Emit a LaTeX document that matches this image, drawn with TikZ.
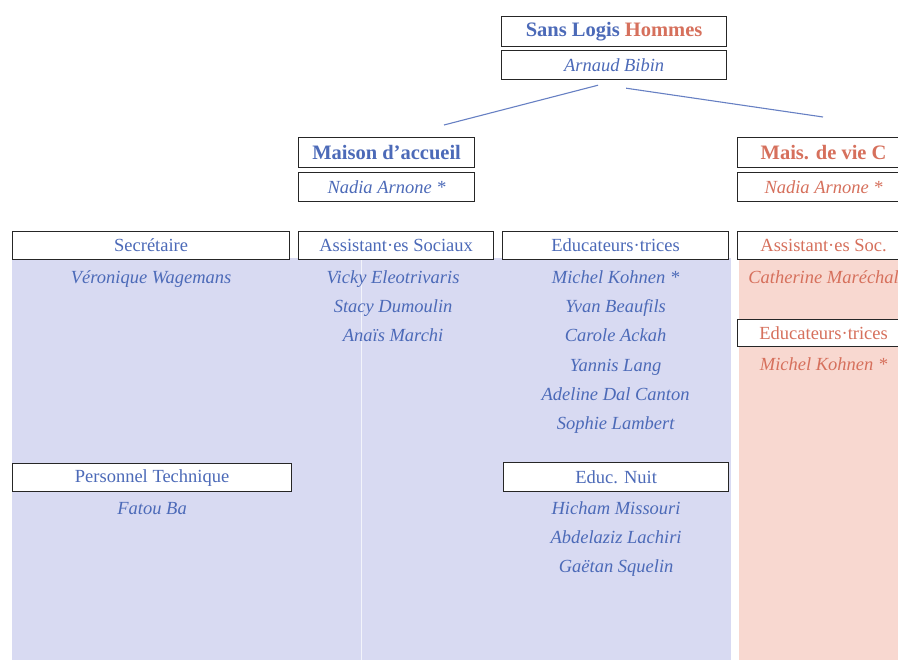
\documentclass[tikz,border=0pt]{standalone}
\usepackage{fontspec}
\setmainfont{Liberation Serif}
\usetikzlibrary{positioning}
\usetikzlibrary{calc}

\definecolor{staffblue}{RGB}{76,106,184}
\definecolor{staffred}{RGB}{214,112,92}
\definecolor{zoneblue}{RGB}{216,218,242}
\definecolor{zonepink}{RGB}{248,216,208}

\tikzset{
    headbox/.style={draw=black!85, line width=1.2pt, fill=white, anchor=north west,
        inner sep=0pt, minimum height=28, font=\fontsize{18.5}{18.5}\selectfont},
    titlebox/.style={headbox, minimum height=30, font=\bfseries\fontsize{20.5}{20.5}\selectfont},
    namebox/.style={headbox, minimum height=29, font=\itshape\fontsize{18.5}{18.5}\selectfont},
    names/.style={align=center, inner sep=0pt, font=\itshape\fontsize{18.5}{29.3}\selectfont},
    link/.style={staffblue!85, line width=1.1pt}
}

\begin{document}
\begin{tikzpicture}[x=1pt, y=-1pt]

        \useasboundingbox (0,0) rectangle (898,660);

        % coloured zones of the two houses
        \fill[zoneblue] (12,258) rectangle (731,660);
        \fill[zonepink] (739,258) rectangle (898,660);
        \draw[white!70!zoneblue, line width=0.8pt] (361,258) -- (361,660);

        % direction
        \node[titlebox, minimum width=225] (sanslogis) at (501,16)
            {\textcolor{staffblue}{Sans Logis} \textcolor{staffred}{Hommes}};
        \node[namebox, minimum width=225, text=staffblue] (bibin) at (501,50) {Arnaud Bibin};

        % houses
        \node[titlebox, minimum width=176, text=staffblue] (maison) at (298,137) {Maison d'accueil};
        \node[namebox, minimum width=176, text=staffblue] (maisondir) at (298,172) {Nadia Arnone *};
        \node[titlebox, minimum width=172, text=staffred] (viec) at (737,137) {Mais. de vie C};
        \node[namebox, minimum width=172, text=staffred] (viecdir) at (737,172) {Nadia Arnone *};

        \coordinate (forkleft) at (444,125);
        \coordinate (forkright) at (823,117);
        \draw[link] ($(bibin.south)+(-16,5)$) -- (forkleft);
        \draw[link] ($(bibin.south)+(12,8)$) -- (forkright);

        % teams of the Maison d'accueil
        \node[headbox, minimum width=277, text=staffblue] (secr) at (12,231) {Secrétaire};
        \node[names, text=staffblue, below=10pt of secr] (secrnames) {Véronique Wagemans};

        \node[headbox, minimum width=195, text=staffblue] (assoc) at (298,231) {Assistant·es Sociaux};
        \node[names, text=staffblue, below=10pt of assoc, xshift=-3pt] (assocnames)
            {Vicky Eleotrivaris\\Stacy Dumoulin\\Anaïs Marchi};

        \node[headbox, minimum width=226, text=staffblue] (educ) at (502,231) {Educateurs·trices};
        \node[names, text=staffblue, below=10pt of educ] (educnames)
            {Michel Kohnen *\\Yvan Beaufils\\Carole Ackah\\Yannis Lang\\Adeline Dal Canton\\Sophie Lambert};

        \node[headbox, minimum width=279, text=staffblue] (tech) at (12,463) {Personnel Technique};
        \node[names, text=staffblue, below=10pt of tech] (technames) {Fatou Ba};

        \node[headbox, minimum width=225, minimum height=29, text=staffblue] (nuit) at (503,462) {Educ. Nuit};
        \node[names, text=staffblue, below=9pt of nuit] (nuitnames)
            {Hicham Missouri\\Abdelaziz Lachiri\\Gaëtan Squelin};

        % teams of the Maison de vie C
        \node[headbox, minimum width=172, text=staffred] (assocc) at (737,231) {Assistant·es Soc.};
        \node[names, text=staffred, below=10pt of assocc] (assoccnames) {Catherine Maréchal};

        \node[headbox, minimum width=172, minimum height=27, text=staffred] (educc) at (737,319) {Educateurs·trices};
        \node[names, text=staffred, below=10pt of educc] (educcnames) {Michel Kohnen *};

    \end{tikzpicture}
\end{document}
